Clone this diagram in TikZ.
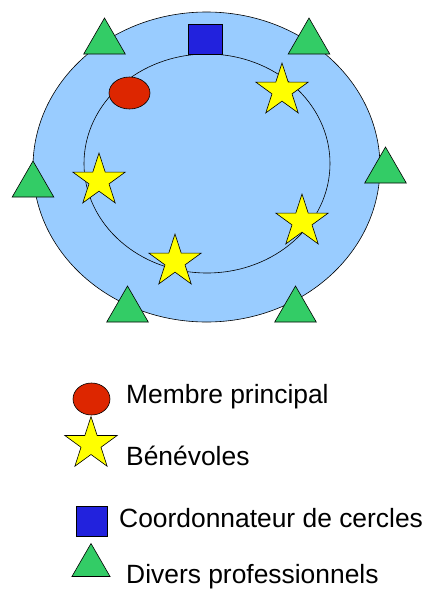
\documentclass[tikz,border=0pt]{standalone}
\usepackage{fontspec}
\setmainfont{Liberation Sans}
\usetikzlibrary{shapes.geometric}

\tikzset{
  membre/.style={ellipse, draw, line width=0.6pt, fill={rgb, 255:red, 221; green, 38; blue, 0 }, minimum width=41pt, minimum height=32pt, inner sep=0pt},
  benevole/.style={star, star points=5, star point ratio=2.618, draw, line width=0.6pt, fill={rgb, 255:red, 255; green, 255; blue, 0 }, minimum size=55.2pt, inner sep=0pt},
  coord/.style={rectangle, draw, line width=0.6pt, fill={rgb, 255:red, 34; green, 34; blue, 221 }, minimum width=34pt, minimum height=30pt, inner sep=0pt},
  pro/.style={regular polygon, regular polygon sides=3, draw, line width=0.6pt, fill={rgb, 255:red, 51; green, 204; blue, 102 }, minimum size=48pt, inner sep=0pt},
  legende/.style={anchor=base west, inner sep=0pt, font=\fontsize{26.4}{31}\selectfont}
}

\begin{document}
\begin{tikzpicture}[x=1pt,y=1pt,yscale=-1,xscale=1]
\useasboundingbox (0,0) rectangle (422,590);

%Shape: Ellipse outer circle
\draw [line width=0.6pt, fill={rgb, 255:red, 153; green, 204; blue, 255 }] (206.5,167) ellipse (173.5 and 155);
%Shape: Ellipse inner circle
\draw [line width=0.6pt] (207,163.5) ellipse (123 and 109.5);

%Shape: Square
\node [coord] (coordo) at (205,39) {};
%Shape: Ellipse
\node [membre] (membre) at (129.5,93) {};
%Shape: Stars
\node [benevole] (ben1) at (282,90.6) {};
\node [benevole] (ben2) at (99,180.6) {};
\node [benevole] (ben3) at (302,221.6) {};
\node [benevole] (ben4) at (175,261.6) {};
%Shape: Triangles
\node [pro] (pro1) at (104.5,42) {};
\node [pro] (pro2) at (309,42) {};
\node [pro] (pro3) at (33,185) {};
\node [pro] (pro4) at (385.5,171) {};
\node [pro] (pro5) at (127.5,310) {};
\node [pro] (pro6) at (295.5,310) {};

%Legend
\node [membre, minimum width=37pt] (lmembre) at (91.5,399) {};
\node [benevole, minimum size=55pt] (lben) at (91,444) {};
\node [coord, minimum width=31pt] (lcoordo) at (91.5,521) {};
\node [pro, minimum size=44pt] (lpro) at (91,565.5) {};

% Text Node
\node [legende] (tmembre) at (126,403) {Membre principal};
% Text Node
\node [legende] (tben) at (126,465) {Bénévoles};
% Text Node
\node [legende] (tcoordo) at (119,527) {Coordonnateur de cercles};
% Text Node
\node [legende] (tpro) at (126,583) {Divers professionnels};

\end{tikzpicture}
\end{document}
